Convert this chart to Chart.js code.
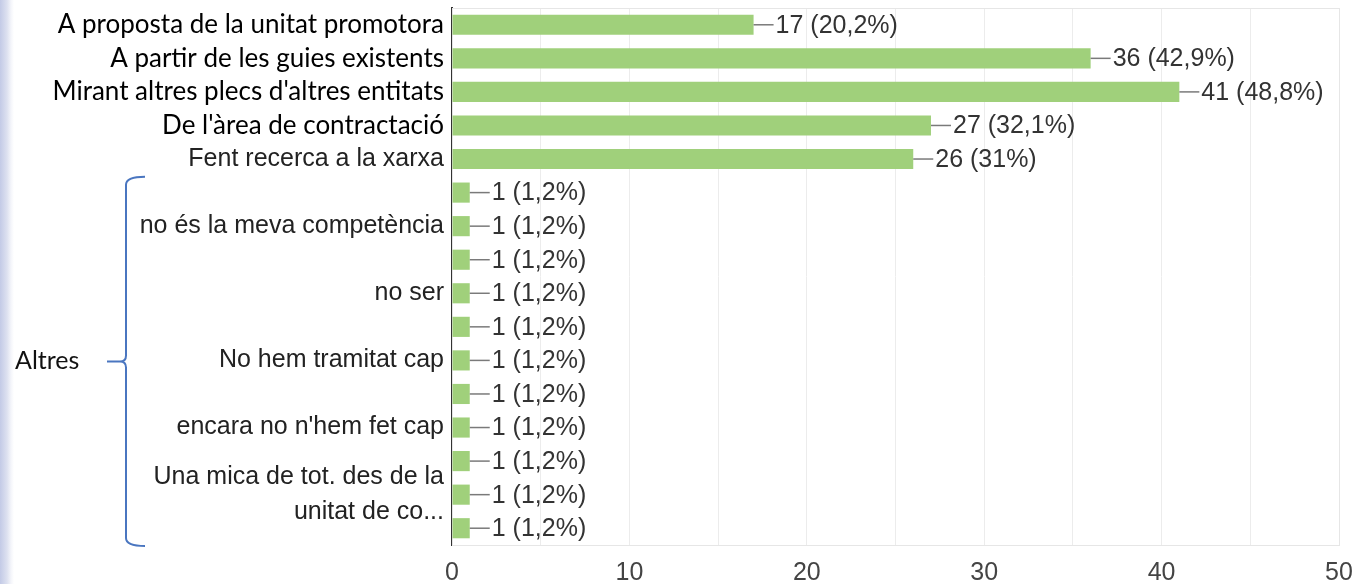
<!DOCTYPE html>
<html lang="ca">
<head>
    <meta charset="UTF-8">
    <title>Com elaboreu els plecs</title>
    <script src="https://cdn.jsdelivr.net/npm/chart.js"></script>
    <style>
        html, body {
            margin: 0;
            padding: 0;
        }
        body {
            width: 1352px;
            height: 584px;
            overflow: hidden;
            background: linear-gradient(to right, #c3cae6 0px, #dde1f0 7px, #f4f5fa 11px, #ffffff 14px);
        }
        .chart-container {
            position: relative;
            width: 1352px;
            height: 584px;
        }
    </style>
</head>
<body>
    <div class="chart-container">
        <canvas id="grafic"></canvas>
    </div>

    <script>
        // Categories (les buides formen part del grup "Altres")
        const categories = [
            'A proposta de la unitat promotora',
            'A partir de les guies existents',
            "Mirant altres plecs d'altres entitats",
            "De l'àrea de contractació",
            'Fent recerca a la xarxa',
            '',
            'no és la meva competència',
            '',
            'no ser',
            '',
            'No hem tramitat cap',
            '',
            "encara no n'hem fet cap",
            '',
            ['Una mica de tot. des de la', 'unitat de co...'],
            ''
        ];
        const respostes = [17, 36, 41, 27, 26, 1, 1, 1, 1, 1, 1, 1, 1, 1, 1, 1];
        const percentatges = ['20,2%', '42,9%', '48,8%', '32,1%', '31%',
            '1,2%', '1,2%', '1,2%', '1,2%', '1,2%', '1,2%', '1,2%', '1,2%', '1,2%', '1,2%', '1,2%'];
        const xTicks = [0, 10, 20, 30, 40, 50];
        const grupAltres = 'Altres';
        const primerAltres = 5; // primer índex del grup "Altres"

        // Etiquetes de valor amb el guionet
        const etiquetesValor = {
            id: 'etiquetesValor',
            afterDatasetsDraw(chart) {
                const ctx = chart.ctx;
                const meta = chart.getDatasetMeta(0);
                ctx.save();
                meta.data.forEach((bar, i) => {
                    ctx.strokeStyle = '#7a7a7a';
                    ctx.lineWidth = 1.5;
                    ctx.beginPath();
                    ctx.moveTo(bar.x, bar.y);
                    ctx.lineTo(bar.x + 20, bar.y);
                    ctx.stroke();
                    ctx.fillStyle = '#333333';
                    ctx.font = '25px "Liberation Sans", Arial, sans-serif';
                    ctx.textAlign = 'left';
                    ctx.textBaseline = 'middle';
                    ctx.fillText(respostes[i] + ' (' + percentatges[i] + ')', bar.x + 22, bar.y + 1);
                });
                ctx.restore();
            }
        };

        // Marc gris de l'àrea del gràfic, clau i text "Altres"
        const decoracio = {
            id: 'decoracio',
            beforeDatasetsDraw(chart) {
                const a = chart.chartArea;
                const ctx = chart.ctx;
                ctx.save();
                ctx.strokeStyle = '#e6e6e6';
                ctx.lineWidth = 1;
                ctx.strokeRect(a.left + 0.5, a.top + 0.5, a.right - a.left, a.bottom - a.top);
                ctx.restore();
            },
            afterDraw(chart) {
                const ctx = chart.ctx;
                const y = chart.scales.y;
                const band = (y.getPixelForValue(1) - y.getPixelForValue(0));
                const top = y.getPixelForValue(primerAltres) - band / 2 + 1;
                const bottom = chart.chartArea.bottom + 1;
                const mid = (top + bottom) / 2;
                const xv = 126;
                ctx.save();
                ctx.strokeStyle = '#4a76c0';
                ctx.lineWidth = 2;
                ctx.beginPath();
                ctx.moveTo(145, top);
                ctx.quadraticCurveTo(xv, top, xv, top + 8);
                ctx.lineTo(xv, mid - 6);
                ctx.quadraticCurveTo(xv, mid, xv - 6, mid);
                ctx.lineTo(107, mid);
                ctx.moveTo(xv - 6, mid);
                ctx.quadraticCurveTo(xv, mid, xv, mid + 6);
                ctx.lineTo(xv, bottom - 8);
                ctx.quadraticCurveTo(xv, bottom, 145, bottom);
                ctx.stroke();
                ctx.fillStyle = '#111111';
                ctx.font = '25px Lato, "Open Sans", sans-serif';
                ctx.textAlign = 'left';
                ctx.textBaseline = 'middle';
                ctx.fillText(grupAltres, 15, mid);
                ctx.restore();
            }
        };

        const ctx = document.getElementById('grafic').getContext('2d');
        const grafic = new Chart(ctx, {
            type: 'bar',
            data: {
                labels: categories,
                datasets: [{
                    data: respostes,
                    backgroundColor: '#a0d07b',
                    borderWidth: 0,
                    categoryPercentage: 1,
                    barPercentage: 0.6
                }]
            },
            options: {
                indexAxis: 'y',
                responsive: true,
                maintainAspectRatio: false,
                animation: false,
                layout: {
                    padding: { top: 8, right: 0, left: 0, bottom: 0 }
                },
                scales: {
                    x: {
                        min: 0,
                        max: 50,
                        afterFit(scale) {
                            scale.height = 39;
                            scale.paddingLeft = 0;
                            scale.paddingRight = 13;
                        },
                        grid: {
                            color: '#ececec',
                            drawTicks: false
                        },
                        border: { display: false },
                        ticks: {
                            stepSize: 5,
                            padding: 13,
                            color: '#444444',
                            font: { family: '"Liberation Sans", Arial, sans-serif', size: 25 },
                            callback: (v) => xTicks.includes(v) ? v : ''
                        }
                    },
                    y: {
                        afterFit(scale) {
                            scale.width = 452;
                            scale.paddingTop = 0;
                            scale.paddingBottom = 0;
                        },
                        grid: { display: false, drawTicks: false },
                        border: { display: true, color: '#333333', width: 2 },
                        ticks: {
                            padding: 8,
                            autoSkip: false,
                            color: (c) => c.index < 4 ? '#000000' : '#222222',
                            font: (c) => c.index < 4
                                ? { family: 'Lato, "Open Sans", sans-serif', size: 26, lineHeight: 1.2 }
                                : { family: '"Liberation Sans", Arial, sans-serif', size: 25, lineHeight: 1.4 }
                        }
                    }
                },
                plugins: {
                    legend: { display: false },
                    tooltip: { enabled: false }
                }
            },
            plugins: [etiquetesValor, decoracio]
        });
    </script>
</body>
</html>
